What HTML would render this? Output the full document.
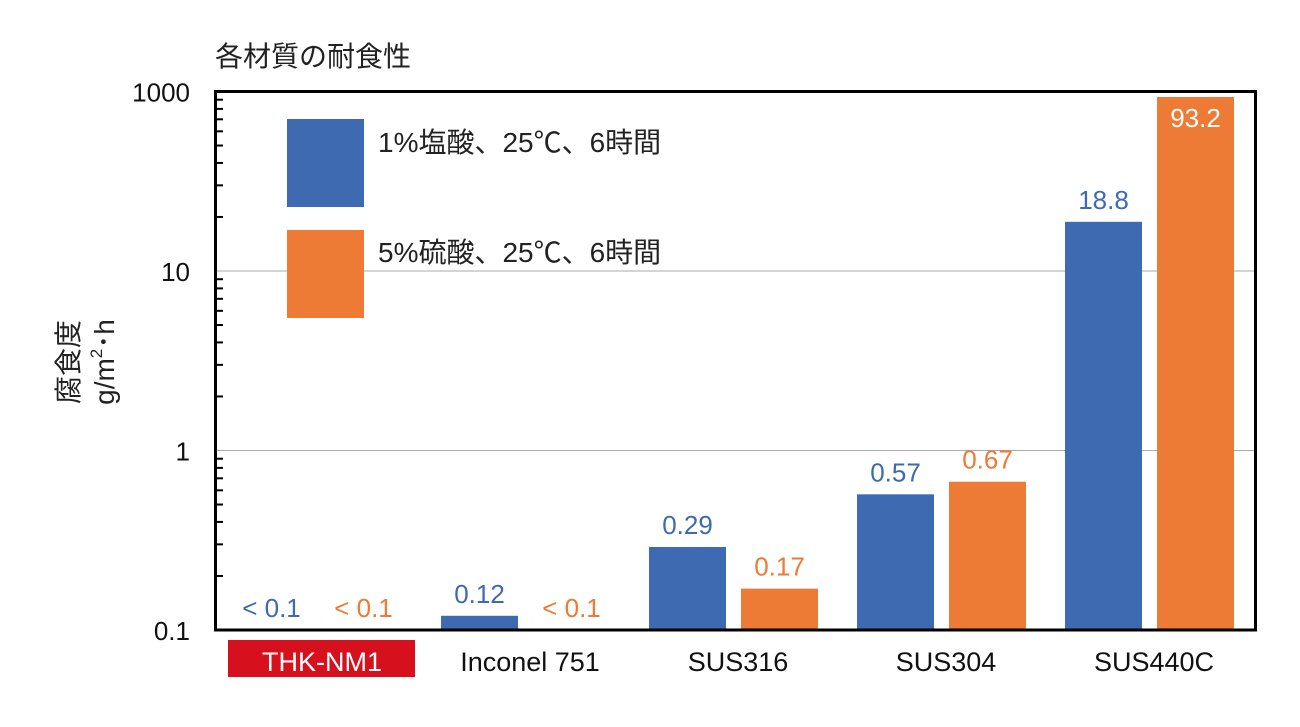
<!DOCTYPE html>
<html><head><meta charset="utf-8"><style>
body{margin:0;background:#fff;}
svg{display:block;font-family:"Liberation Sans","Noto Sans CJK JP",sans-serif;}
</style></head><body>
<svg id="chart" width="1300" height="727" viewBox="0 0 1300 727">
<text x="215" y="66" font-size="28" fill="#222">各材質の耐食性</text>
<g transform="translate(78,362) rotate(-90)">
<text x="0" y="0" text-anchor="middle" font-size="28" fill="#222">腐食度</text>
<text x="0" y="36" text-anchor="middle" font-size="28" fill="#222">g/m<tspan font-size="17" dy="-12">2</tspan><tspan dy="12">･h</tspan></text>
</g>
<g id="grid"></g><g id="bars"></g><g id="ticks"></g>
<rect x="215.5" y="91.5" width="1040" height="538.5" fill="none" stroke="#000" stroke-width="3"/>
<rect x="287" y="119" width="77" height="88" fill="#3d6ab0"/>
<text x="378" y="152" font-size="28" fill="#222">1%塩酸、25℃、6時間</text>
<rect x="287" y="230" width="77" height="88" fill="#ed7a35"/>
<text x="378" y="262" font-size="28" fill="#222">5%硫酸、25℃、6時間</text>
<rect x="228" y="640" width="187" height="37" fill="#d7101e"/>
</svg>
<script>
const categories=["THK-NM1","Inconel 751","SUS316","SUS304","SUS440C"];
const hclValues=[null,0.12,0.29,0.57,18.8];
const h2so4Values=[null,null,0.17,0.67,93.2];
const tickValues=[0.1,1,10,100];
const tickLabels=["0.1","1","10","1000"];
const NS="http://www.w3.org/2000/svg";
const svg=document.getElementById('chart');
const y=v=>630-(Math.log10(v)+1)*179.5;
const xc=i=>320+208*i;
function mk(tag,attrs,parent,txt){const e=document.createElementNS(NS,tag);for(const k in attrs)e.setAttribute(k,attrs[k]);if(txt!==undefined)e.textContent=txt;parent.appendChild(e);return e;}
const grid=document.getElementById('grid'),bars=document.getElementById('bars'),ticks=document.getElementById('ticks');
tickValues.forEach((v,i)=>{
 if(i>0&&i<tickValues.length-1){const g=mk('line',{x1:215,x2:1255,y1:y(v),y2:y(v),stroke:'#aaa','stroke-width':1},grid);
 
 }
 const t=mk('text',{x:190,y:y(v)+10,'text-anchor':'end','font-size':26,fill:'#111'},ticks,tickLabels[i]);
 
 
 if(i<tickValues.length-1){for(let m=2;m<=9;m++){const tk=mk('line',{x1:215,x2:223,y1:y(v*m),y2:y(v*m),stroke:'#000','stroke-width':2},ticks);
 
 }}
});
function series(vals,off,color,name){
 vals.forEach((v,i)=>{
  const x=xc(i)+off;
  if(v!==null){const r=mk('rect',{x:x,y:y(v),width:77,height:630-y(v),fill:color},bars);
  
  }
  const inside=v!==null&&y(v)<120;
  const ly=v===null?617:(inside?y(v)+30:y(v)-13);
  const t=mk('text',{x:x+38.5,y:ly,'text-anchor':'middle','font-size':26,fill:inside?'#fff':color},bars,v===null?'< 0.1':String(v));
  
  
 });
}
series(hclValues,-87,'#3d6ab0','hcl');
series(h2so4Values,5,'#ed7a35','h2so4');
categories.forEach((c,i)=>{
 const t=mk('text',{x:xc(i)+2,y:671,'text-anchor':'middle','font-size':27,fill:i===0?'#fff':'#111'},svg,c);
 
 
});
</script>
</body></html>
